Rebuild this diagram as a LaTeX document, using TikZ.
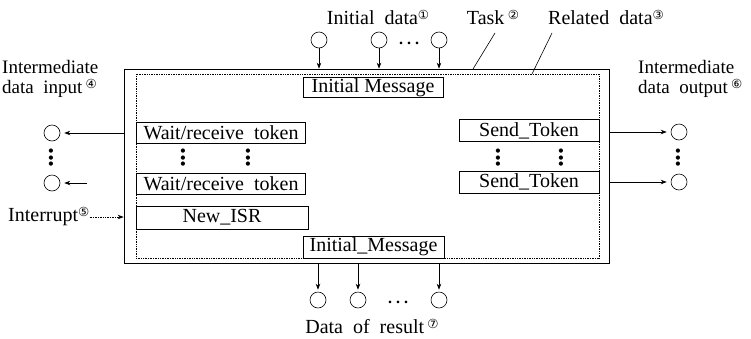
\documentclass[tikz,border=0pt]{standalone}
\usepackage{fontspec}
\setmainfont{Liberation Serif}
\newfontfamily\circfont{DejaVu Sans}
\usetikzlibrary{arrows.meta}
\newcommand\circnum[1]{\raisebox{5pt}{\circfont\fontsize{12.5}{12.5}\selectfont #1}}
\newcommand\ws{\hspace{0.5em}}
\newcommand\vdts{{\circfont\fontsize{5.5}{6.5}\selectfont\vbox{\baselineskip6.5pt\lineskiplimit-\maxdimen\lineskip0pt\hbox{●}\hbox{●}\hbox{●}}}}
\newcommand\hdts{.\hspace{4pt}.\hspace{4pt}.}
\begin{document}
\begin{tikzpicture}[x=1pt,y=-1pt,
  lbl/.style={font=\fontsize{20}{18}\selectfont, inner sep=0pt},
  lbltwo/.style={font=\fontsize{19}{20}\selectfont, inner sep=0pt, align=left, anchor=north west},
  fbox/.style={draw, line width=0.7pt, inner sep=0pt, font=\fontsize{20}{20}\selectfont},
  dat/.style={draw, circle, line width=0.6pt, minimum size=16pt, inner sep=0pt},
  arr/.style={-{Stealth[length=6pt,width=4.5pt]}, line width=0.7pt},
  vd/.style={inner sep=0pt},
  hd/.style={font=\fontsize{16}{16}\selectfont\bfseries, inner sep=0pt},
  lead/.style={line width=0.6pt}
]
\useasboundingbox (0,0) rectangle (751,338);
\fill[white] (0,0) rectangle (751,338);

% task and related data boxes
\node[draw, line width=0.7pt, minimum width=485pt, minimum height=194pt, inner sep=0pt] (task) at (366.5,166) {};
\node[draw, densely dotted, line width=0.7pt, minimum width=463pt, minimum height=184pt, inner sep=0pt] (rel) at (367.5,166) {};

% inner boxes
\node[fbox, fill=white, minimum width=140pt, minimum height=20pt] (im1) at (373,87.5) {Initial Message};
\node[fbox, minimum width=169pt, minimum height=21pt] (w1) at (221,132.5) {Wait/receive\ws token};
\node[fbox, minimum width=169pt, minimum height=21pt] (w2) at (221,183.5) {Wait/receive\ws token};
\node[fbox, minimum width=172pt, minimum height=23pt] (isr) at (222,217.5) {New\_ISR};
\node[fbox, minimum width=140pt, minimum height=22pt] (s1) at (529,130.5) {Send\_Token};
\node[fbox, minimum width=140pt, minimum height=22pt] (s2) at (529,182) {Send\_Token};
\node[fbox, fill=white, minimum width=141pt, minimum height=22pt] (im2) at (373.5,247) {Initial\_Message};

% vertical dots
\node[vd] (da) at (183,158) {\vdts};
\node[vd] (db) at (248,158) {\vdts};
\node[vd] (dc) at (498,158) {\vdts};
\node[vd] (dd) at (561,158) {\vdts};
\node[vd] (de) at (51,158) {\vdts};
\node[vd] (df) at (678,158) {\vdts};

% top inputs
\node[dat] (t1) at (319,40) {};
\node[dat] (t2) at (379,40) {};
\node[dat] (t3) at (439,40) {};
\node[hd] (tdots) at (409,43) {\hdts};
\draw[arr] (t1) -- (t1 |- task.north);
\draw[arr] (t2) -- (t2 |- task.north);
\draw[arr] (t3) -- (t3 |- task.north);
\node[lbl] (initlbl) at (378,17) {Initial\ws data\circnum{①}};

% labels task / related
\node[lbl] (tasklbl) at (493,17) {Task\,\circnum{②}};
\node[lbl, anchor=west] (rellbl) at (548,17) {Related\ws data\circnum{③}};
\coordinate (tl1) at (495,33);
\coordinate (tl2) at (473,69);
\coordinate (rl1) at (552,33);
\coordinate (rl2) at (532,74);
\draw[lead] (tl1) -- (tl2);
\draw[lead] (rl1) -- (rl2);

% left outputs (intermediate input)
\node[lbltwo] (inlbl) at (2,60) {Intermediate\\data\ws input\,\circnum{④}};
\node[dat] (l1) at (52,133) {};
\node[dat] (l2) at (52,183) {};
\coordinate (l2s) at (87,183);
\draw[arr, shorten >=4pt] (task.west |- l1) -- (l1);
\draw[arr, shorten >=4pt] (l2s) -- (l2);

% right outputs
\node[lbltwo] (outlbl) at (638,60) {Intermediate\\data\ws output\,\circnum{⑥}};
\node[dat] (r1) at (679,132) {};
\node[dat] (r2) at (679,182) {};
\draw[arr, shorten >=4pt] (task.east |- r1) -- (r1);
\draw[arr, shorten >=4pt] (task.east |- r2) -- (r2);

% interrupt
\node[lbl, anchor=west] (intlbl) at (8,217) {Interrupt\circnum{⑤}};
\draw[arr, densely dotted] (intlbl.east) -- (task.west |- intlbl);

% bottom results
\node[dat] (b1) at (318,300) {};
\node[dat] (b2) at (358,300) {};
\node[dat] (b3) at (439,300) {};
\node[hd] (bdots) at (398,302) {\hdts};
\draw[arr, shorten >=2pt] (b1 |- task.south) -- (b1);
\draw[arr, shorten >=2pt] (b2 |- task.south) -- (b2);
\draw[arr, shorten >=2pt] (b3 |- task.south) -- (b3);
\node[lbl] (reslbl) at (372,326) {Data\ws of\ws result\,\circnum{⑦}};
\end{tikzpicture}
\end{document}
